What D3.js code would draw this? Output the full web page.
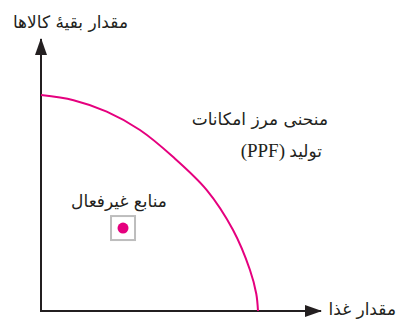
<!DOCTYPE html>
<html>
<head>
<meta charset="utf-8">
<script src="https://cdn.jsdelivr.net/npm/d3@7"></script>
<style>
  body { margin: 0; background: #fff; }
  text { font-family: "DejaVu Sans", sans-serif; fill: #231f20; }
</style>
</head>
<body>
<div id="chart"></div>
<script>
// --- data (food = x, other goods = y, 0..100) ---
const ppfFood  = [0, 15, 30.3, 45.6, 60.8, 76.4, 88.5, 96.3, 99.2, 100];
const ppfGoods = [100, 97.6, 92.3, 83.8, 71.4, 56, 37.5, 19, 8, 0];
const idleFood = [37.8];
const idleGoods = [38.4];
const axisLabels = { x: "مقدار غذا", y: "مقدار بقیهٔ کالاها" };
const curveLabel = ["منحنی مرز امکانات", "تولید", "(PPF)"];
const idleLabel = "منابع غیرفعال";

const W = 398, H = 321;
const pink = "#e5007e", ink = "#231f20";
const fs = 17;

const svg = d3.select("#chart").append("svg")
  .attr("width", W).attr("height", H);

const x = d3.scaleLinear().domain([0, 100]).range([41, 258]);
const y = d3.scaleLinear().domain([0, 100]).range([311, 95]);
const xEnd = x.invert(321), yEnd = y.invert(39);

// axes with arrow heads
svg.append("defs").append("marker")
  .attr("id", "arrow")
  .attr("viewBox", "0 0 17 12")
  .attr("refX", 16).attr("refY", 6)
  .attr("markerWidth", 17).attr("markerHeight", 12)
  .attr("markerUnits", "userSpaceOnUse")
  .attr("orient", "auto")
  .append("path").attr("d", "M0,0L17,6L0,12Z").attr("fill", ink);

svg.append("line")
  .attr("x1", x(0)).attr("y1", y(0)).attr("x2", x(xEnd)).attr("y2", y(0))
  .attr("stroke", ink).attr("stroke-width", 2).attr("marker-end", "url(#arrow)");
svg.append("line")
  .attr("x1", x(0)).attr("y1", y(0) + 1).attr("x2", x(0)).attr("y2", y(yEnd))
  .attr("stroke", ink).attr("stroke-width", 2).attr("marker-end", "url(#arrow)");

// PPF curve
const pts = ppfFood.map((f, i) => [f, ppfGoods[i]]);
svg.append("path")
  .datum(pts)
  .attr("fill", "none").attr("stroke", pink).attr("stroke-width", 2)
  .attr("d", d3.line().x(d => x(d[0])).y(d => y(d[1])).curve(d3.curveCatmullRom));

// idle resources point
idleFood.forEach((f, i) => {
  const cx = x(f), cy = y(idleGoods[i]);
  svg.append("rect")
    .attr("x", cx - 12).attr("y", cy - 12).attr("width", 24).attr("height", 24)
    .attr("fill", "none").attr("stroke", "#bdbdbd").attr("stroke-width", 2);
  svg.append("circle").attr("cx", cx).attr("cy", cy).attr("r", 5.5).attr("fill", pink);
  svg.append("text")
    .attr("x", cx - 4).attr("y", cy - 21)
    .attr("text-anchor", "middle").style("direction", "rtl")
    .attr("font-size", fs).text(idleLabel);
});

// labels
svg.append("text").attr("x", 128).attr("y", 28)
  .style("direction", "rtl").attr("text-anchor", "start")
  .attr("font-size", fs).text(axisLabels.y);
svg.append("text").attr("x", 396).attr("y", 315)
  .style("direction", "rtl").attr("text-anchor", "start")
  .attr("font-size", fs).text(axisLabels.x);

svg.append("text").attr("x", 328).attr("y", 125)
  .style("direction", "rtl").attr("text-anchor", "start")
  .attr("font-size", fs).text(curveLabel[0]);
svg.append("text").attr("x", 322).attr("y", 157)
  .style("direction", "rtl").attr("text-anchor", "start")
  .attr("font-size", fs).text(curveLabel[1]);
svg.append("text").attr("x", 285).attr("y", 157)
  .attr("text-anchor", "end")
  .style("font-family", "'Liberation Serif', serif").attr("font-size", 19).text(curveLabel[2]);
</script>
</body>
</html>
